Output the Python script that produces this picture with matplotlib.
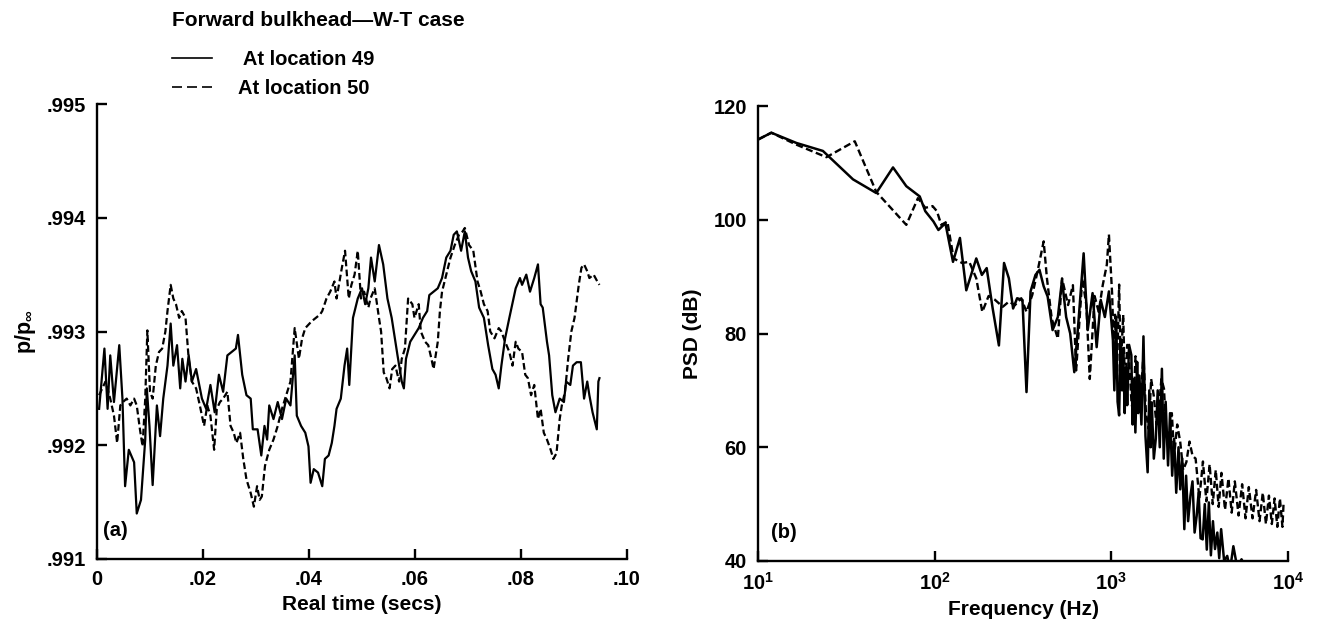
import numpy as np
import matplotlib
matplotlib.use('Agg')
from matplotlib import pyplot as plt
from matplotlib.lines import Line2D

plt.rcParams['font.family'] = ['Liberation Sans', 'DejaVu Sans']
plt.rcParams['font.weight'] = 'bold'
plt.rcParams['mathtext.fontset'] = 'custom'
plt.rcParams['mathtext.rm'] = 'Liberation Sans:bold'
plt.rcParams['mathtext.it'] = 'Liberation Sans:bold'
plt.rcParams['mathtext.bf'] = 'Liberation Sans:bold'

# (a) pressure time history, t in ms
t_49 = [0.4, 1.4, 2.0, 2.5, 3.2, 4.2, 4.8, 5.3, 6.0, 7.0, 7.5, 8.3, 9.1, 9.4, 9.9, 10.5,
        11.3, 11.9, 12.5, 13.3, 13.9, 14.4, 15.1, 15.7, 16.1, 16.7, 17.3, 17.9, 18.7, 19.8,
        20.6, 21.4, 22.2, 23.0, 23.8, 24.6, 25.4, 26.2, 26.6, 27.4, 28.2, 29.0, 29.4, 30.3,
        31.0, 31.6, 32.1, 32.5, 33.3, 34.1, 34.9, 35.7, 36.5, 37.3, 37.7, 38.5, 39.3, 39.9,
        40.3, 40.9, 41.7, 42.5, 43.0, 43.7, 44.3, 44.8, 45.2, 46.0, 46.7, 47.2, 47.6, 48.3,
        49.2, 50.0, 50.6, 51.2, 51.7, 52.4, 53.2, 54.0, 54.8, 55.6, 56.0, 56.7, 57.5, 57.9,
        58.3, 59.1, 59.9, 60.7, 61.5, 62.3, 62.7, 64.3, 65.1, 65.9, 66.7, 67.3, 67.9, 68.7,
        69.4, 70.0, 70.6, 71.4, 72.1, 73.0, 73.8, 74.6, 75.2, 75.8, 76.3, 77.0, 77.8, 79.0,
        79.8, 80.2, 81.0, 81.7, 82.5, 83.2, 83.7, 84.1, 84.9, 85.3, 85.9, 86.5, 87.3, 88.1,
        88.5, 89.3, 89.8, 90.5, 91.3, 91.9, 92.5, 92.9, 93.5, 94.3, 94.6, 94.8]
p_49 = [.99232, .99285, .99232, .99279, .99238, .99288, .99241, .99164, .99196, .99185,
        .99140, .99152, .99205, .99250, .99217, .99165, .99235, .99208, .99241, .99270,
        .99307, .99270, .99288, .99250, .99276, .99256, .99279, .99256, .99267, .99241,
        .99232, .99253, .99229, .99262, .99247, .99279, .99282, .99285, .99297, .99262,
        .99244, .99241, .99214, .99214, .99191, .99217, .99205, .99235, .99223, .99238,
        .99223, .99241, .99235, .99279, .99226, .99217, .99211, .99199, .99167, .99179,
        .99176, .99164, .99188, .99191, .99202, .99217, .99232, .99241, .99270, .99285,
        .99253, .99312, .99329, .99338, .99324, .99338, .99365, .99344, .99376, .99359,
        .99329, .99312, .99300, .99279, .99256, .99250, .99276, .99291, .99297, .99303,
        .99312, .99318, .99332, .99338, .99347, .99365, .99371, .99385, .99388, .99371,
        .99388, .99365, .99353, .99344, .99321, .99312, .99288, .99267, .99262, .99250,
        .99270, .99294, .99312, .99338, .99347, .99341, .99350, .99335, .99347, .99359,
        .99324, .99321, .99291, .99279, .99244, .99229, .99241, .99238, .99256, .99253,
        .99270, .99273, .99273, .99241, .99256, .99244, .99229, .99214, .99256, .99259]

t_50 = [0.4, 1.6, 2.5, 3.2, 3.8, 4.4, 4.9, 5.6, 6.3, 7.0, 7.5, 8.1, 8.6, 9.1, 9.5, 10.0,
        10.5, 11.1, 11.7, 12.3, 12.9, 13.3, 13.9, 14.4, 14.9, 15.5, 16.0, 16.7, 17.3, 17.9,
        18.7, 19.4, 20.2, 20.8, 21.4, 22.1, 22.6, 23.2, 23.8, 24.6, 25.2, 25.8, 26.3, 27.0,
        27.6, 28.2, 29.0, 29.6, 30.2, 30.7, 31.1, 31.7, 32.5, 33.3, 34.1, 34.9, 35.7, 36.5,
        37.3, 38.1, 38.7, 39.3, 39.9, 40.5, 41.3, 42.1, 42.5, 43.3, 44.0, 44.8, 45.2, 46.2,
        46.8, 47.5, 48.0, 48.6, 49.2, 49.8, 50.4, 51.2, 51.6, 52.4, 53.2, 53.6, 54.1, 54.6,
        55.2, 55.7, 56.3, 57.0, 57.5, 58.1, 58.7, 59.5, 59.9, 60.7, 61.1, 61.9, 62.5, 63.1,
        63.5, 64.3, 64.7, 65.1, 65.9, 66.7, 67.5, 68.3, 69.0, 69.4, 70.2, 71.0, 71.8, 72.4,
        73.0, 73.7, 74.2, 75.0, 75.8, 76.3, 77.0, 77.8, 78.4, 79.0, 79.5, 80.2, 80.8, 81.3,
        81.9, 82.5, 83.2, 83.7, 84.3, 84.9, 85.6, 86.1, 86.7, 87.3, 87.7, 88.3, 88.9, 89.5,
        90.1, 90.9, 91.4, 91.9, 92.5, 92.9, 93.7, 94.4, 94.8]
p_50 = [.99244, .99256, .99241, .99226, .99202, .99235, .99238, .99241, .99235, .99241,
        .99235, .99214, .99199, .99241, .99301, .99247, .99241, .99270, .99282, .99285,
        .99300, .99318, .99341, .99329, .99324, .99312, .99318, .99312, .99276, .99256,
        .99250, .99235, .99217, .99235, .99226, .99196, .99232, .99238, .99241, .99247,
        .99217, .99211, .99202, .99211, .99188, .99170, .99158, .99146, .99164, .99152,
        .99155, .99182, .99196, .99205, .99217, .99232, .99244, .99256, .99303, .99276,
        .99294, .99303, .99306, .99309, .99312, .99315, .99318, .99329, .99335, .99344,
        .99329, .99356, .99371, .99329, .99341, .99350, .99371, .99329, .99335, .99321,
        .99329, .99338, .99312, .99300, .99264, .99259, .99250, .99267, .99270, .99256,
        .99276, .99285, .99329, .99324, .99312, .99324, .99300, .99291, .99288, .99276,
        .99267, .99291, .99318, .99335, .99350, .99365, .99376, .99385, .99388, .99391,
        .99376, .99371, .99344, .99335, .99324, .99318, .99300, .99294, .99303, .99300,
        .99291, .99282, .99270, .99291, .99285, .99282, .99262, .99259, .99244, .99253,
        .99223, .99232, .99211, .99205, .99196, .99188, .99193, .99223, .99235, .99247,
        .99276, .99300, .99312, .99341, .99356, .99359, .99353, .99347, .99350, .99344,
        .99341]

# (b) power spectral density
f_49 = [10.0, 11.9, 16.5, 23.3, 34.5, 46.7, 58.1, 69.1, 82.3, 88.5, 98.4, 105, 115, 127,
        139, 151, 172, 185, 197, 213, 231, 247, 263, 278, 293, 314, 331, 349, 372, 392, 414,
        436, 465, 498, 526, 555, 585, 617, 650, 697, 735, 783, 826, 871, 919, 969, 1021,
        1040, 1066, 1085, 1107, 1130, 1150, 1167, 1190, 1210, 1230, 1260, 1298, 1320, 1345,
        1368, 1400, 1420, 1442, 1480, 1520, 1560, 1605, 1640, 1670, 1693, 1740, 1785, 1830,
        1880, 1933, 1980, 2030, 2094, 2150, 2210, 2268, 2330, 2400, 2455, 2520, 2589, 2650,
        2720, 2805, 2880, 2960, 3040, 3120, 3200, 3290, 3380, 3470, 3565, 3660, 3760, 3861,
        3980, 4080, 4183, 4350, 4529, 4700, 4906, 5150, 5457, 5800, 6228, 9000]
psd_49 = [114.1, 115.3, 113.5, 112.1, 107.1, 104.7, 109.2, 105.9, 104.1, 101.5, 99.7, 98.2,
          99.4, 92.6, 96.8, 87.6, 93.2, 90.3, 91.5, 84.4, 77.9, 92.4, 89.7, 84.4, 86.2, 85.9,
          69.7, 87.4, 90.3, 91.2, 88.3, 86.5, 80.6, 82.9, 89.4, 82.9, 80.0, 73.2, 81.7, 94.1,
          80.6, 87.1, 77.6, 85.9, 82.9, 87.4, 78.8,
          70.0, 82.9, 68.0, 65.6, 79.0, 70.0, 77.4, 66.0, 74.0, 67.4, 78.0, 76.2, 64.0, 72.0,
          62.6, 75.0, 66.0, 72.6, 64.0, 79.5, 62.0, 55.6, 70.0, 60.0, 67.9, 58.0, 61.5, 70.0,
          60.0, 73.8, 58.0, 68.0, 56.8, 66.0, 55.0, 61.5, 52.0, 60.0, 52.6, 58.0, 45.6, 55.0,
          47.0, 51.5, 54.0, 45.0, 47.9, 52.0, 44.0, 43.8, 50.0, 42.0, 50.3, 41.0, 47.0, 42.1,
          45.0, 40.5, 45.6, 40.0, 40.9, 38.5, 42.6, 39.0, 40.3, 38.8, 38.5, 36.0]

f_50 = [10.0, 11.9, 16.5, 24.4, 35.3, 46.7, 69.1, 80.4, 88.5, 97.3, 103, 109, 118, 128, 143,
        157, 172, 186, 202, 218, 243, 263, 285, 309, 331, 357, 382, 414, 432, 460, 498, 526,
        569, 606, 632, 685, 722, 755, 804, 848, 894, 943, 969, 1011, 1030, 1050, 1075, 1107,
        1130, 1167, 1197, 1230, 1263, 1300, 1332, 1370, 1405, 1460, 1520, 1570, 1629, 1680,
        1738, 1800, 1853, 1920, 1986, 2050, 2128, 2200, 2268, 2360, 2455, 2550, 2660, 2770,
        2882, 3000, 3150, 3300, 3450, 3600, 3750, 3900, 4050, 4200, 4400, 4600, 4800, 5000,
        5250, 5500, 5750, 6000, 6300, 6600, 6900, 7200, 7500, 7800, 8100, 8400, 8700, 9000,
        9300, 9450]
psd_50 = [114.1, 115.3, 113.2, 111.0, 113.8, 104.9, 99.1, 103.8, 102.1, 102.4, 101.5, 99.1,
          99.7, 93.2, 92.4, 92.6, 89.7, 83.8, 86.6, 86.0, 84.7, 85.6, 85.0, 86.2, 83.8, 86.8,
          90.9, 96.2, 89.7, 82.6, 79.1, 89.7, 85.0, 88.5, 73.5, 89.7, 85.0, 72.0, 86.6, 83.8,
          88.5, 92.1, 97.4, 86.8, 78.0, 83.3, 72.0, 88.6, 74.0, 83.3, 69.1, 78.0, 75.0, 68.0,
          65.6, 76.0, 72.1, 68.0, 76.2, 66.0, 63.2, 72.0, 69.1, 64.0, 66.2, 72.0, 70.3, 62.0,
          62.1, 66.0, 58.5, 64.0, 60.9, 56.0, 57.4, 61.0, 58.5,
          58.0, 51.0, 57.5, 50.5, 57.0, 50.0, 56.0, 49.5, 55.5, 49.0, 54.5, 48.5, 54.0, 48.0,
          53.5, 47.5, 53.0, 47.5, 52.5, 47.0, 52.0, 46.5, 51.5, 46.5, 51.0, 46.0, 51.0, 46.0,
          50.5]

W, H = 1320, 630
fig = plt.figure(figsize=(13.2, 6.3), dpi=100)
ax1 = fig.add_axes([97 / W, 1 - 559 / H, 530 / W, 455 / H])
ax2 = fig.add_axes([758 / W, 1 - 561 / H, 530 / W, 455 / H])

dash = (3, 1.5)
ax1.plot(np.array(t_49) / 1000, p_49, color='black', lw=1.6)
ax1.plot(np.array(t_50) / 1000, p_50, color='black', lw=1.6, ls=(0, dash))
ax2.plot(f_49, psd_49, color='black', lw=1.8)
ax2.plot(f_50, psd_50, color='black', lw=1.7, ls=(0, dash))

ax1.set_xlim(0, 0.1)
ax1.set_ylim(0.991, 0.995)
ax1.set_xticks([0, .02, .04, .06, .08, .10], ['0', '.02', '.04', '.06', '.08', '.10'])
ax1.set_yticks([.991, .992, .993, .994, .995], ['.991', '.992', '.993', '.994', '.995'])
ax1.set_xlabel('Real time (secs)', fontsize=15, fontweight='bold', labelpad=4)
ax1.set_ylabel(r'p/p$_\infty$', fontsize=15.5, fontweight='bold', labelpad=6)
ax1.text(0.012, 0.05, '(a)', transform=ax1.transAxes, fontsize=14.5, fontweight='bold')

ax2.set_xscale('log')
ax2.set_xlim(10, 1e4)
ax2.set_ylim(40, 120)
ax2.set_xticks([10, 100, 1000, 10000],
               [r'$\mathbf{10^{1}}$', r'$\mathbf{10^{2}}$', r'$\mathbf{10^{3}}$', r'$\mathbf{10^{4}}$'])
ax2.xaxis.set_minor_locator(matplotlib.ticker.NullLocator())
ax2.set_yticks([40, 60, 80, 100, 120], ['40', '60', '80', '100', '120'])
ax2.set_xlabel('Frequency (Hz)', fontsize=15, fontweight='bold', labelpad=4)
ax2.set_ylabel('PSD (dB)', fontsize=15, fontweight='bold', labelpad=8)
ax2.text(0.025, 0.05, '(b)', transform=ax2.transAxes, fontsize=14.5, fontweight='bold')

for ax in (ax1, ax2):
    for s in ('top', 'right'):
        ax.spines[s].set_visible(False)
    for s in ('left', 'bottom'):
        ax.spines[s].set_linewidth(1.7)
    ax.tick_params(direction='in', length=7, width=1.7, labelsize=14.5, pad=8)
    for lab in ax.get_xticklabels() + ax.get_yticklabels():
        lab.set_fontweight('bold')

fig.text(172 / W, 1 - 21 / H, 'Forward bulkhead\u2014W-T case', fontsize=15,
         fontweight='bold', va='center', ha='left')
handles = [Line2D([], [], color='black', lw=1.2),
           Line2D([], [], color='black', lw=1.2, ls=(0, (6, 3)))]
fig.legend(handles, [' At location 49', 'At location 50'], loc='center left',
           bbox_to_anchor=(172 / W, 1 - 74 / H), frameon=False, borderpad=0,
           borderaxespad=0, labelspacing=0.5, handlelength=2.0, handletextpad=1.3,
           prop={'size': 14.5, 'weight': 'bold'})

fig.savefig('out.png', dpi=100)
